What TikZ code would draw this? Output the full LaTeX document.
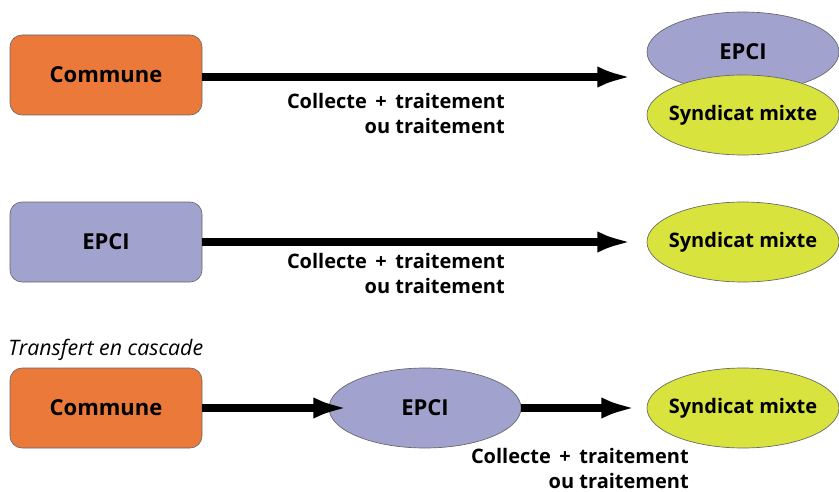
\documentclass[tikz,border=0pt]{standalone}
\usepackage{fontspec}
\setmainfont{Open Sans}
\usepackage{tikz}
\usetikzlibrary{shapes.geometric, arrows.meta}

\definecolor{orangecom}{RGB}{235,122,58}
\definecolor{mauveepci}{RGB}{162,162,206}
\definecolor{jaunesm}{RGB}{217,227,62}

\begin{document}
\begin{tikzpicture}[x=0.75pt, y=-0.75pt, font=\bfseries,
    boite/.style={draw=black!60, line width=0.5pt, rounded corners=9pt, minimum width=144pt, minimum height=60pt, font=\fontsize{16.5}{20}\selectfont\bfseries},
    ovale/.style={ellipse, draw=black!60, line width=0.5pt, minimum width=144pt, minimum height=60pt, inner xsep=-14pt, inner ysep=0pt, font=\fontsize{15}{18}\selectfont\bfseries},
    sigle/.style={font=\fontsize{16.5}{20}\selectfont\bfseries},
    fleche/.style={line width=6pt, -{Latex[length=26pt 0, width=16pt 0]}},
    legende/.style={align=right, anchor=north east, inner sep=0pt, font=\fontsize{15}{18.5}\selectfont\bfseries}]
    \useasboundingbox (0,0) rectangle (839,492);
    % premiere ligne
    \node[boite, fill=orangecom] (commune1) at (106,75) {Commune};
    \node[ovale, sigle, fill=mauveepci] (epci1) at (743,52) {\raisebox{1pt}{EPCI}};
    \node[ovale, fill=jaunesm] (syndicat1) at (743,115) {Syndicat mixte};
    \coordinate (bout1) at (632,77);
    \draw[fleche] (commune1.east |- bout1) -- (bout1);
    \node[legende] (lab1) at (505,93) {Collecte \,+\, traitement\\ ou traitement};
    % deuxieme ligne
    \node[boite, fill=mauveepci] (epci2) at (106,242) {EPCI};
    \node[ovale, fill=jaunesm] (syndicat2) at (743,242) {Syndicat mixte};
    \coordinate (bout2) at (632,242);
    \draw[fleche] (epci2) -- (bout2);
    \node[legende] (lab2) at (505,253) {Collecte \,+\, traitement\\ ou traitement};
    % cascade
    \node[anchor=base west, inner sep=0pt, font=\fontsize{16}{19}\selectfont\itshape] (titre) at (8,355) {Transfert en cascade};
    \node[boite, fill=orangecom] (commune3) at (106,408) {Commune};
    \node[ovale, sigle, fill=mauveepci] (epci3) at (425,408) {EPCI};
    \node[ovale, fill=jaunesm] (syndicat3) at (743,408) {Syndicat mixte};
    \coordinate (bout3) at (348,408);
    \coordinate (bout4) at (636,408);
    \draw[fleche] (commune3) -- (bout3);
    \draw[fleche] (epci3) -- (bout4);
    \node[legende] (lab3) at (689,448) {Collecte \,+\, traitement\\ ou traitement};
\end{tikzpicture}
\end{document}
